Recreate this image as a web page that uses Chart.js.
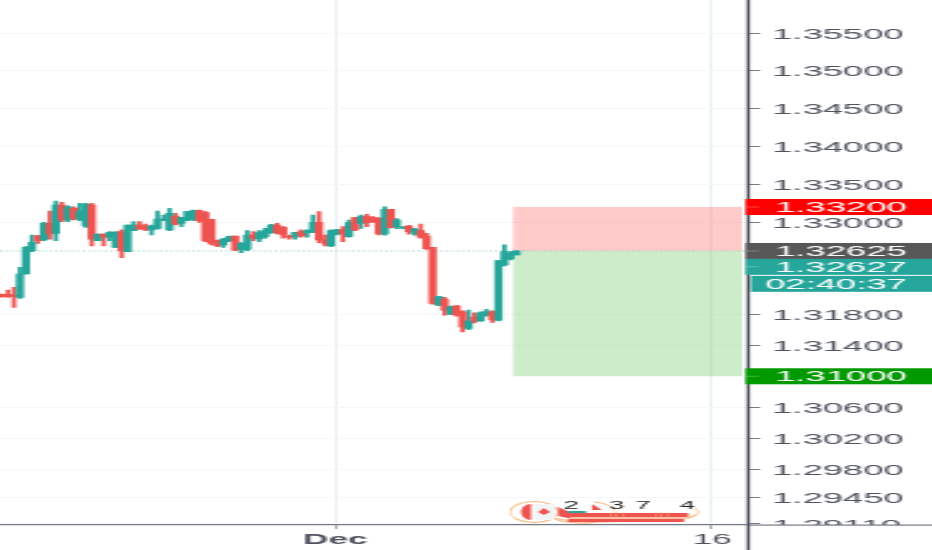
<!DOCTYPE html>
<html>
<head>
<meta charset="utf-8">
<style>
html,body{margin:0;padding:0;background:#fff;overflow:hidden;width:932px;height:550px}
#wrap{width:373px;height:550px;transform-origin:0 0;transform:scale(2.4987,1)}
canvas{display:block}
</style>
<script src="https://cdn.jsdelivr.net/npm/chart.js@4/dist/chart.umd.min.js"></script>
</head>
<body>
<div id="wrap"><canvas id="c" width="373" height="550"></canvas></div>
<script>
const opens=[1.32056,1.32060,1.32047,1.32021,1.32325,1.32630,1.32826,1.32769,1.32986,1.32856,1.33226,1.33030,1.33182,1.33039,1.32952,1.33226,1.32760,1.32847,1.32804,1.32673,1.32878,1.32617,1.32891,1.32965,1.32952,1.32900,1.32921,1.33030,1.32900,1.33082,1.32986,1.33030,1.33039,1.33152,1.33126,1.33039,1.32760,1.32704,1.32760,1.32821,1.32647,1.32647,1.32834,1.32782,1.32812,1.32865,1.32965,1.32934,1.32821,1.32812,1.32878,1.32865,1.32865,1.32999,1.32769,1.32691,1.32847,1.32900,1.32812,1.33061,1.32986,1.33074,1.33061,1.33052,1.32847,1.33169,1.32943,1.32926,1.32952,1.32856,1.32891,1.32821,1.32673,1.31921,1.31995,1.31804,1.31908,1.31834,1.31617,1.31769,1.31717,1.31790,1.31834,1.31725,1.32443,1.32521,1.32574];
const highs=[1.32064,1.32116,1.32151,1.32412,1.32682,1.32834,1.32826,1.32999,1.33147,1.33278,1.33261,1.33217,1.33204,1.33247,1.33247,1.33247,1.32847,1.32847,1.32878,1.32878,1.32900,1.32965,1.33009,1.33009,1.32978,1.32965,1.33147,1.33095,1.33182,1.33117,1.33065,1.33139,1.33161,1.33161,1.33139,1.33039,1.32769,1.32791,1.32821,1.32821,1.32734,1.32891,1.32878,1.32891,1.32921,1.32974,1.32986,1.32943,1.32834,1.32869,1.32900,1.32900,1.33095,1.33139,1.32834,1.32900,1.32909,1.32943,1.33030,1.33061,1.33095,1.33104,1.33074,1.33061,1.33204,1.33169,1.33047,1.32943,1.32961,1.32921,1.32978,1.32856,1.32673,1.32030,1.32021,1.31908,1.31917,1.31847,1.31856,1.31821,1.31834,1.31865,1.31847,1.32499,1.32704,1.32617,1.32626];
const lows=[1.32025,1.32021,1.31890,1.32008,1.32325,1.32617,1.32725,1.32760,1.32778,1.32760,1.33009,1.33009,1.33030,1.33021,1.32934,1.32691,1.32760,1.32691,1.32760,1.32673,1.32539,1.32617,1.32891,1.32909,1.32891,1.32834,1.32909,1.33021,1.32891,1.32965,1.32943,1.33021,1.33021,1.32999,1.32747,1.32704,1.32682,1.32673,1.32747,1.32630,1.32603,1.32630,1.32760,1.32747,1.32791,1.32856,1.32847,1.32791,1.32778,1.32778,1.32804,1.32804,1.32865,1.32734,1.32691,1.32682,1.32834,1.32747,1.32804,1.32891,1.32921,1.32943,1.32999,1.32834,1.32830,1.32926,1.32917,1.32917,1.32843,1.32830,1.32791,1.32647,1.31934,1.31912,1.31790,1.31795,1.31777,1.31573,1.31603,1.31690,1.31708,1.31777,1.31695,1.31717,1.32430,1.32508,1.32574];
const closes=[1.32034,1.32034,1.32034,1.32325,1.32673,1.32738,1.32760,1.32986,1.32847,1.33226,1.33030,1.33204,1.33043,1.33147,1.33234,1.32778,1.32847,1.32804,1.32869,1.32869,1.32630,1.32965,1.32965,1.32909,1.32909,1.32952,1.33043,1.33043,1.33117,1.32974,1.33065,1.33139,1.33152,1.33021,1.32760,1.32725,1.32695,1.32778,1.32812,1.32638,1.32725,1.32834,1.32791,1.32865,1.32891,1.32965,1.32865,1.32834,1.32804,1.32869,1.32821,1.32891,1.32999,1.32769,1.32725,1.32891,1.32900,1.32847,1.32995,1.32900,1.33074,1.32995,1.33009,1.32847,1.33169,1.32934,1.33030,1.32934,1.32878,1.32909,1.32804,1.32656,1.31943,1.32030,1.31856,1.31899,1.31790,1.31638,1.31717,1.31717,1.31821,1.31838,1.31732,1.32499,1.32617,1.32595,1.32627];

const yTicks=[1.355,1.35,1.345,1.34,1.335,1.33,1.318,1.314,1.306,1.302,1.298,1.2945,1.2911];
const xTickPositions=[55.7,118.7];
const xTickLabels=['Dec','16'];
const tagValues=[1.332,1.32625,1.32627,1.31];
const tagLabels=['1.33200','1.32625','1.32627','1.31000'];
const tagColors=['#ff0000','#575757','#26a69a','#009900'];
const tagShift=[0,0,16,0];
const countdownLabel='02:40:37';
const entryPrice=1.32625, stopPrice=1.332, targetPrice=1.31;
const zoneStart=85.45, zoneEnd=123.75;
const xMin=-0.33, xMax=124.4, yMin=1.29097, yMax=1.35941;
const logoDigits=['2','3','7','4'];

const K=932/373;
const UP='#26a69a', DOWN='#ef5350', AXIS='#50535e';
const candleColors=opens.map((o,i)=>closes[i]>=o?UP:DOWN);
const wicks=highs.map((h,i)=>({x:i,y:[lows[i],h]}));
const bodies=opens.map((o,i)=>({x:i,y:[Math.min(o,closes[i]),Math.max(o,closes[i])]}));

const FAMILY='"Liberation Sans", Arial, sans-serif';
const font14='14.6px '+FAMILY;

const positionZones={
  id:'positionZones',
  beforeDatasetsDraw(chart){
    const {ctx,scales:{x,y}}=chart;
    const l=x.getPixelForValue(zoneStart), r=x.getPixelForValue(zoneEnd);
    const e=y.getPixelForValue(entryPrice), s=y.getPixelForValue(stopPrice), t=y.getPixelForValue(targetPrice);
    ctx.save();
    ctx.fillStyle='rgba(255,90,90,0.32)';
    ctx.fillRect(l,s,r-l,e-s);
    ctx.fillStyle='rgba(120,205,110,0.37)';
    ctx.fillRect(l,e,r-l,t-e);
    ctx.restore();
  }
};

const overlay={
  id:'overlay',
  afterDraw(chart){
    const {ctx,scales:{y},width,height}=chart;
    const axisX=y.left;
    const base=y.getPixelForValue(yMin);
    ctx.save();
    // cover the part of the lowest label that falls in the time-axis band
    ctx.fillStyle='#fff';
    ctx.fillRect(axisX,base,width-axisX,height-base);
    ctx.fillStyle='#787b86';
    ctx.fillRect(axisX,base-0.5,width-axisX,1.2);
    // vertical price-axis line
    ctx.fillStyle=AXIS;
    ctx.fillRect(Math.round(axisX)-0.2,0,1.3,height);
    // price tags
    ctx.textBaseline='middle';
    ctx.textAlign='left';
    ctx.font=font14;
    tagValues.forEach((v,i)=>{
      const cy=y.getPixelForValue(v)+tagShift[i];
      ctx.fillStyle=tagColors[i];
      ctx.fillRect(axisX-0.2,cy-8,width-axisX+0.2,16);
      ctx.fillStyle='rgba(255,255,255,0.25)';
      ctx.fillRect(axisX,cy-0.5,13/K,1);
      ctx.fillStyle='#fff';
      ctx.fillText(tagLabels[i],775/K,cy+0.7);
    });
    // countdown
    const cd=y.getPixelForValue(tagValues[2])+tagShift[2]+17;
    ctx.fillStyle=UP;
    ctx.fillRect(751/K,cd-8,width-751/K,16);
    ctx.fillStyle='#fff';
    ctx.fillText(countdownLabel,765/K,cd+0.7);
    ctx.restore();
    drawLogo(ctx);
  }
};

function drawLogo(ctx){
  ctx.save();
  ctx.scale(1/K,1);
  // rings
  ctx.strokeStyle='#f7b77c';
  ctx.lineWidth=1.2;
  ctx.beginPath();ctx.ellipse(534,512,24,10.5,0,0,Math.PI*2);ctx.stroke();
  ctx.beginPath();ctx.ellipse(581,512,34,11,0,-1.2,Math.PI*0.95);ctx.stroke();
  ctx.beginPath();ctx.ellipse(640,513,50,8,0,0.1,Math.PI*0.95);ctx.stroke();
  ctx.beginPath();ctx.ellipse(668,512,30,8,0,-0.5,Math.PI*0.6);ctx.stroke();
  ctx.beginPath();ctx.ellipse(600,514,52,8,0,0.2,Math.PI*0.9);ctx.stroke();
  // flag
  ctx.fillStyle='#f3f4f6';
  ctx.fillRect(533,504,22,16);
  ctx.fillStyle='#ef5350';
  ctx.beginPath();ctx.ellipse(531,512,10,8,0,Math.PI/2,Math.PI*1.5);ctx.fill();
  ctx.beginPath();ctx.moveTo(538,512);ctx.lineTo(544,508);ctx.lineTo(550,512);ctx.lineTo(544,515);ctx.closePath();ctx.fill();
  // hull
  ctx.beginPath();ctx.moveTo(558,507);ctx.lineTo(572,513);ctx.lineTo(572,519);ctx.lineTo(558,516);ctx.closePath();ctx.fill();
  ctx.fillRect(570,513,118,4);
  ctx.fillRect(568,519,116,3);
  ctx.beginPath();ctx.moveTo(592,504);ctx.lineTo(602,510);ctx.lineTo(592,510);ctx.closePath();ctx.fill();
  ctx.fillStyle='#f9c4a6';
  ctx.fillRect(570,517,116,2);
  ctx.fillStyle=UP;
  ctx.fillRect(568,511,18,2);
  ctx.fillStyle='#f7b77c';
  [610,616,622,655,661,667].forEach(px=>ctx.fillRect(px,512,1,6));
  ctx.restore();
  ctx.save();
  ctx.fillStyle='#222';
  ctx.font='11px '+FAMILY;
  ctx.textAlign='center';
  ctx.textBaseline='middle';
  [571,617,643,687].forEach((px,i)=>ctx.fillText(logoDigits[i],px/K,506));
  ctx.restore();
}

function zeroPad(s){s.paddingTop=0;s.paddingBottom=0;s.paddingLeft=0;s.paddingRight=0;}

new Chart(document.getElementById('c'),{
  type:'bar',
  data:{datasets:[
    {type:'line',data:[{x:xMin,y:entryPrice},{x:xMax,y:entryPrice}],borderColor:'#9fd4cc',borderWidth:1,borderDash:[1,1.2],pointRadius:0,order:3},
    {label:'wick',data:wicks,backgroundColor:candleColors,barThickness:2.8/K,grouped:false,order:2},
    {label:'body',data:bodies,backgroundColor:candleColors,barThickness:6.6/K,grouped:false,order:1}
  ]},
  options:{
    responsive:false,animation:false,devicePixelRatio:1,
    layout:{padding:0},
    plugins:{legend:{display:false},tooltip:{enabled:false}},
    scales:{
      x:{
        type:'linear',min:xMin,max:xMax,offset:false,
        grid:{color:'#cfe0ea',lineWidth:0.5,offset:false,tickColor:'#50535e',tickLength:4},
        border:{color:'#787b86',width:1.2},
        afterBuildTicks(s){s.ticks=xTickPositions.map(v=>({value:v}));},
        afterFit(s){s.height=25;zeroPad(s);},
        ticks:{
          autoSkip:false,maxRotation:0,padding:3,color:'#50535e',
          font:c=>{const lab=xTickLabels[xTickPositions.indexOf(c.tick&&c.tick.value)];
            return {family:FAMILY,size:14,weight:lab==='Dec'?'bold':'normal'};},
          callback:v=>xTickLabels[xTickPositions.indexOf(v)]
        }
      },
      y:{
        type:'logarithmic',position:'right',min:yMin,max:yMax,bounds:'data',
        grid:{color:'#f6f7f8',lineWidth:1,tickColor:'#787b86',tickLength:14/K},
        border:{display:false},
        afterBuildTicks(s){s.ticks=yTicks.map(v=>({value:v}));},
        afterFit(s){s.width=(932-746)/K;zeroPad(s);},
        ticks:{
          autoSkip:false,padding:12/K,labelOffset:1.5,color:'#50535e',
          font:{family:FAMILY,size:14.6},
          callback:v=>Number(v).toFixed(5)
        }
      }
    }
  },
  plugins:[positionZones,overlay]
});
</script>
</body>
</html>
